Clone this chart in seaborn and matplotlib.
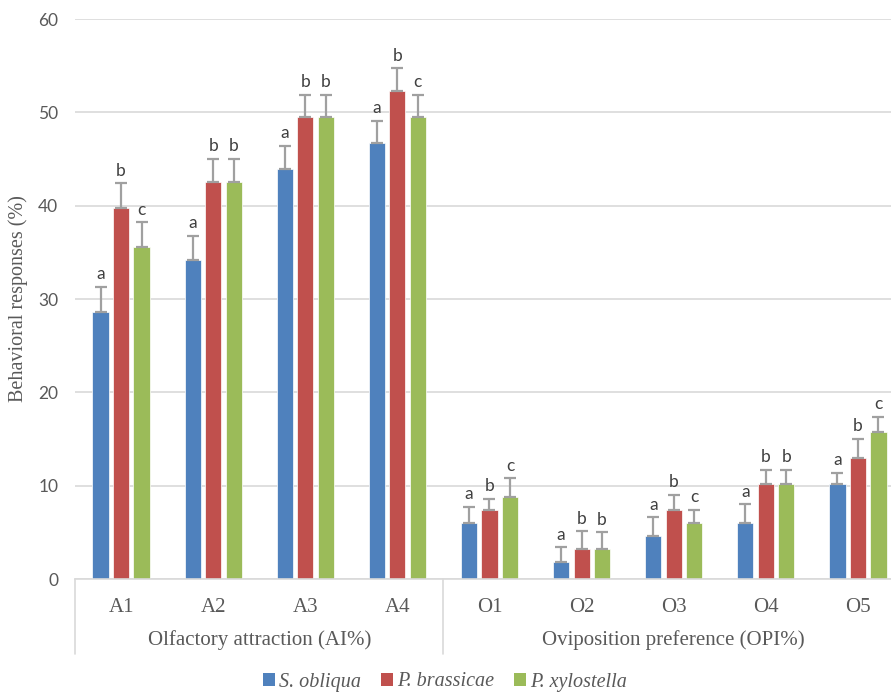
import numpy as np
import pandas as pd
import matplotlib
matplotlib.use("Agg")
import matplotlib.pyplot as plt
from matplotlib.patches import Patch
from matplotlib.lines import Line2D
import seaborn as sns

categories = ["A1", "A2", "A3", "A4", "O1", "O2", "O3", "O4", "O5"]
species = ["S. obliqua", "P. brassicae", "P. xylostella"]

s_obliqua = [28.6, 34.2, 43.9, 46.7, 6.0, 1.8, 4.6, 6.0, 10.2]
p_brassicae = [39.8, 42.5, 49.5, 52.3, 7.4, 3.2, 7.4, 10.2, 13.0]
p_xylostella = [35.6, 42.5, 49.5, 49.5, 8.8, 3.2, 6.0, 10.2, 15.8]

err_s_obliqua = [2.7, 2.6, 2.5, 2.4, 1.7, 1.6, 2.0, 2.0, 1.2]
err_p_brassicae = [2.6, 2.5, 2.4, 2.4, 1.2, 1.9, 1.6, 1.5, 2.0]
err_p_xylostella = [2.6, 2.5, 2.4, 2.4, 2.0, 1.8, 1.4, 1.5, 1.6]

let_s_obliqua = ["a", "a", "a", "a", "a", "a", "a", "a", "a"]
let_p_brassicae = ["b", "b", "b", "b", "b", "b", "b", "b", "b"]
let_p_xylostella = ["c", "b", "b", "c", "c", "b", "c", "b", "c"]

groups = ["Olfactory attraction (AI%)", "Oviposition preference (OPI%)"]
group_sizes = [4, 5]

colors = ["#4F81BD", "#C0504D", "#9BBB59"]

values = [s_obliqua, p_brassicae, p_xylostella]
errors = [err_s_obliqua, err_p_brassicae, err_p_xylostella]
letters = [let_s_obliqua, let_p_brassicae, let_p_xylostella]

df = pd.DataFrame({
    "category": categories * 3,
    "species": np.repeat(species, len(categories)),
    "value": s_obliqua + p_brassicae + p_xylostella,
})

sns.set_style("white")
serif = ["Liberation Serif", "DejaVu Serif"]
sans = ["Lato", "DejaVu Sans"]
text_gray = "#595959"

fig = plt.figure(figsize=(8.91, 6.93), dpi=100)
ax = fig.add_axes([75 / 891, 1 - 579 / 693, 829 / 891, 560 / 693])

sns.barplot(data=df, x="category", y="value", hue="species", order=categories,
            hue_order=species, palette=colors, saturation=1, width=0.667, gap=0.21,
            edgecolor="white", linewidth=0.5, errorbar=None, legend=False, ax=ax)

for cont, vals, errs, lets in zip(ax.containers, values, errors, letters):
    xs = [p.get_x() + p.get_width() / 2 for p in cont.patches]
    ax.errorbar(xs, vals, yerr=[np.zeros(len(errs)), errs], fmt="none",
                ecolor="#A0A0A0", elinewidth=1.6, capsize=4.5, capthick=1.6, zorder=3)
    for x, v, e, t in zip(xs, vals, errs, lets):
        ax.text(x, v + e + 0.5, t, ha="center", va="bottom", fontsize=12.5,
                family=sans, color="#404040")

ax.set_ylim(0, 60)
ax.set_xlim(-0.5, len(categories) - 0.5)
ax.set_yticks(range(0, 61, 10))
ax.yaxis.grid(True, color="#D9D9D9", linewidth=1.2)
ax.set_axisbelow(True)
for side in ["top", "right", "left"]:
    ax.spines[side].set_visible(False)
ax.spines["bottom"].set_color("#D9D9D9")
ax.spines["bottom"].set_linewidth(1.2)
ax.tick_params(axis="y", length=0, pad=12, labelsize=12.5, labelcolor=text_gray)
for lbl in ax.get_yticklabels():
    lbl.set_family(sans)
ax.tick_params(axis="x", length=0, pad=14, labelsize=15, labelcolor=text_gray)
for lbl in ax.get_xticklabels():
    lbl.set_family(serif)
ax.set_xlabel("")
ax.set_ylabel("")
fig.text(18 / 891, 1 - 299 / 693, "Behavioral responses (%)", rotation=90,
         ha="center", va="center", fontsize=14.5, family=serif, color=text_gray)

# group labels and separators below the axis
trans = matplotlib.transforms.blended_transform_factory(ax.transData, ax.transAxes)
start = -0.5
sep_bottom = -(654 - 579) / 560
for name, n in zip(groups, group_sizes):
    ax.text(start + n / 2, -(640 - 579) / 560, name, transform=trans, ha="center",
            va="center", fontsize=15, family=serif, color=text_gray)
    ax.add_line(Line2D([start, start], [0, sep_bottom], transform=trans,
                       color="#D9D9D9", linewidth=1.2, clip_on=False))
    start += n
ax.add_line(Line2D([start, start], [0, sep_bottom], transform=trans,
                   color="#D9D9D9", linewidth=1.2, clip_on=False))

handles = [Patch(facecolor=c, edgecolor="none") for c in colors]
fig.legend(handles, species, loc="center", bbox_to_anchor=(445 / 891, 1 - 682 / 693),
           ncol=3, frameon=False, handlelength=0.6, handleheight=0.6,
           handletextpad=0.2, columnspacing=1.0,
           prop={"family": serif, "style": "italic", "size": 14.5},
           labelcolor=text_gray)

fig.savefig("out.png", dpi=100)
